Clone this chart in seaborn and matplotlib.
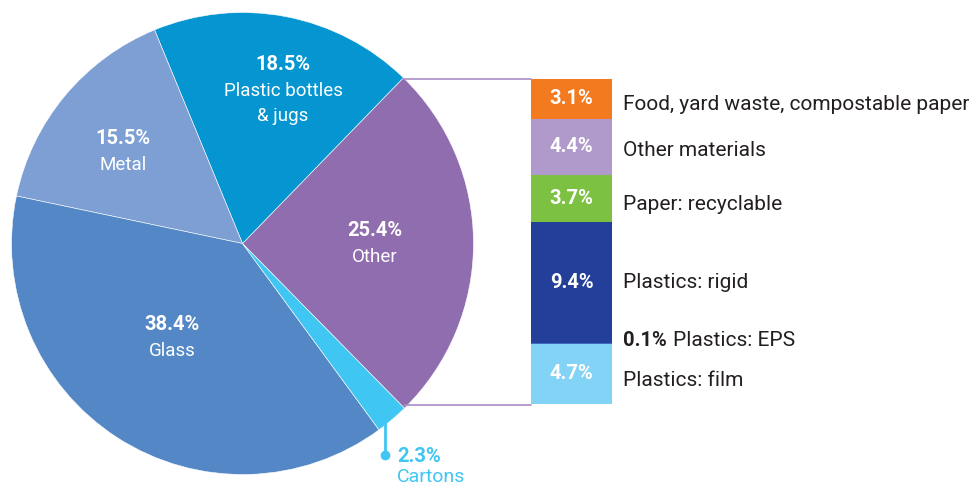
import matplotlib
matplotlib.use("Agg")
import matplotlib.pyplot as plt
import numpy as np
import seaborn as sns

# main pie, counter-clockwise starting from "Other"
pie_names = ["Other", "Plastic bottles\n& jugs", "Metal", "Glass", "Cartons"]
pie_values = [25.4, 18.5, 15.5, 38.4, 2.3]
pie_colors = ["#8f6dae", "#0596d1", "#7d9fd3", "#5487c6", "#40c6f2"]

# breakdown of "Other", top to bottom
other_names = ["Food, yard waste, compostable paper", "Other materials", "Paper: recyclable",
               "Plastics: rigid", "Plastics: EPS", "Plastics: film"]
other_values = [3.1, 4.4, 3.7, 9.4, 0.1, 4.7]
other_colors = ["#f47a20", "#b09acb", "#7cc142", "#233f99", "#3d6cc0", "#83d3f6"]

W, H = 974, 487
FONT = "Roboto"
TEXT = "#231f20"
LINE = "#a98cc6"
PCT_SIZE = 14.5


def main():
    sns.set_theme(style="white")
    plt.rcParams["font.family"] = [FONT, "DejaVu Sans"]

    fig = plt.figure(figsize=(W / 100, H / 100), dpi=100)

    # pie axes: centre (242.5, 243.5) px, radius 231 px
    cx, cy, r = 242.5, 243.5, 231
    ax_pie = fig.add_axes([(cx - r) / W, (H - cy - r) / H, 2 * r / W, 2 * r / H])
    wedges, _ = ax_pie.pie(
        pie_values, colors=pie_colors, startangle=-45.5, counterclock=True,
        wedgeprops=dict(edgecolor="white", linewidth=0.4),
    )
    ax_pie.set_xlim(-1, 1)
    ax_pie.set_ylim(-1, 1)
    ax_pie.set_aspect("equal")
    ax_pie.axis("off")

    # stacked bar for the breakdown
    bx0, bx1, by0, by1 = 531, 612, 79, 404
    ax_bar = fig.add_axes([bx0 / W, (H - by1) / H, (bx1 - bx0) / W, (by1 - by0) / H])
    bottoms = np.concatenate([[0], np.cumsum(other_values)[:-1]])
    ax_bar.bar(0.5, other_values, bottom=bottoms, width=1.0, color=other_colors, linewidth=0)
    ax_bar.set_xlim(0, 1)
    ax_bar.set_ylim(sum(other_values), 0)
    ax_bar.axis("off")
    for v, b in zip(other_values, bottoms):
        if v >= 1:
            ax_bar.text(0.5, b + v / 2, f"{v}%", ha="center", va="center", color="white",
                        fontsize=PCT_SIZE, fontweight="bold")

    # overlay in pixel coordinates for connectors and labels
    ov = fig.add_axes([0, 0, 1, 1], zorder=5)
    ov.set_xlim(0, W)
    ov.set_ylim(H, 0)
    ov.axis("off")
    ov.patch.set_alpha(0)

    t_top = np.deg2rad(wedges[0].theta2)
    t_bot = np.deg2rad(wedges[0].theta1)
    ov.plot([cx + r * np.cos(t_top), bx0], [by0, by0], color=LINE, lw=1.2)
    ov.plot([cx + r * np.cos(t_bot), bx0], [by1 + 1, by1 + 1], color=LINE, lw=1.2)

    # pie labels
    label_pos = [(375, 231), (283, 65), (123, 139), (172, 325)]
    for name, v, (x, y) in zip(pie_names[:4], pie_values[:4], label_pos):
        ov.text(x, y, f"{v}%", ha="center", va="center", color="white",
                fontsize=PCT_SIZE, fontweight="bold")
        for i, line in enumerate(name.split("\n")):
            ov.text(x, y + 26 + 25 * i, line, ha="center", va="center", color="white",
                    fontsize=13.5)

    # cartons call-out
    t_c = np.deg2rad((wedges[4].theta1 + wedges[4].theta2) / 2)
    lx = 385
    ov.plot([lx, lx], [cy - r * np.sin(t_c) - 2, 455], color=pie_colors[4], lw=2)
    ov.plot([lx], [455], "o", color=pie_colors[4], ms=6)
    ov.text(397, 456, f"{pie_values[4]}%", ha="left", va="center", color=pie_colors[4],
            fontsize=PCT_SIZE, fontweight="bold")
    ov.text(397, 477, "Cartons", ha="left", va="center", color=pie_colors[4], fontsize=14)

    # breakdown labels
    right_y = [104, 151, 204, 282, 341, 381]
    for name, v, y in zip(other_names, other_values, right_y):
        if v < 1:
            ov.text(623, y, f"{v}%", ha="left", va="center", color=TEXT,
                    fontsize=PCT_SIZE, fontweight="bold")
            ov.text(673, y, name, ha="left", va="center", color=TEXT, fontsize=15)
        else:
            ov.text(623, y, name, ha="left", va="center", color=TEXT, fontsize=15)

    fig.savefig("out.png", dpi=100, facecolor="white")
    plt.close(fig)


if __name__ == "__main__":
    main()
